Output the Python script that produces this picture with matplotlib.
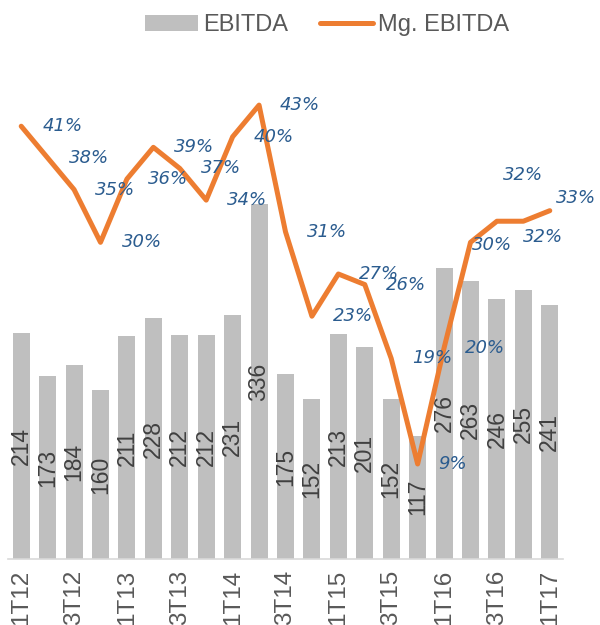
import matplotlib.pyplot as plt
from matplotlib.patches import Patch
from matplotlib.lines import Line2D

# Quarterly data
quarters = ["1T12", "2T12", "3T12", "4T12", "1T13", "2T13", "3T13", "4T13",
            "1T14", "2T14", "3T14", "4T14", "1T15", "2T15", "3T15", "4T15",
            "1T16", "2T16", "3T16", "4T16", "1T17"]
ebitda = [214, 173, 184, 160, 211, 228, 212, 212, 231, 336, 175,
          152, 213, 201, 152, 117, 276, 263, 246, 255, 241]
margin = [41, 38, 35, 30, 36, 39, 37, 34, 40, 43, 31,
          23, 27, 26, 19, 9, 20, 30, 32, 32, 33]

# label offsets (pixels) for the margin labels
label_dx = [21] * 17 + [1, 6, 0, 6]
label_dy = [0] * 17 + [-3, 46, -16, 13]

BAR = "#BFBFBF"
ORANGE = "#ED7D31"
BLUE = "#2B5C8F"
FONT = "Liberation Sans"

fig = plt.figure(figsize=(6, 6.25), dpi=100)
ax = fig.add_axes([8 / 600, 66 / 625, 555 / 600, 475 / 625])
x = list(range(len(quarters)))

ax.bar(x, ebitda, width=0.64, color=BAR, zorder=1)
for xi, v in zip(x, ebitda):
    ax.text(xi, v / 2, str(v), rotation=90, ha="center", va="center",
            fontsize=16.5, color="#404040", family=FONT)

ax.set_xlim(-0.5, len(quarters) - 0.5)
ax.set_ylim(0, 450)
ax.set_yticks([])
ax.set_xticks(x[::2])
ax.set_xticklabels(quarters[::2], rotation=90, va="top", fontsize=17.5,
                   color="#595959", family=FONT)
ax.tick_params(axis="x", length=0, pad=8)
for s in ["top", "right", "left"]:
    ax.spines[s].set_visible(False)
ax.spines["bottom"].set_color("#D9D9D9")
ax.spines["bottom"].set_linewidth(1.2)

ax2 = ax.twinx()
ax2.set_ylim(0, 45)
ax2.plot(x, margin, color=ORANGE, lw=3.6, solid_capstyle="round",
         solid_joinstyle="round")
for xi, v, dx, dy in zip(x, margin, label_dx, label_dy):
    ax2.annotate(f"{v}%", (xi, v), xytext=(dx, dy), textcoords="offset pixels",
                 ha="left", va="center", fontsize=13, style="italic",
                 color=BLUE, family="DejaVu Sans")
ax2.set_yticks([])
for s in ["top", "right", "left", "bottom"]:
    ax2.spines[s].set_visible(False)

handles = [Patch(facecolor=BAR, edgecolor="none", label="EBITDA"),
           Line2D([0], [0], color=ORANGE, lw=3.6, solid_capstyle="round",
                  label="Mg. EBITDA")]
leg = fig.legend(handles=handles, loc="center", bbox_to_anchor=(327 / 600, 1 - 25 / 625),
                 ncol=2, frameon=False, prop={"family": FONT, "size": 17},
                 handlelength=2.25, handleheight=0.68, handletextpad=0.21,
                 columnspacing=1.36)
for t in leg.get_texts():
    t.set_color("#595959")

fig.savefig("out.png", dpi=100)
